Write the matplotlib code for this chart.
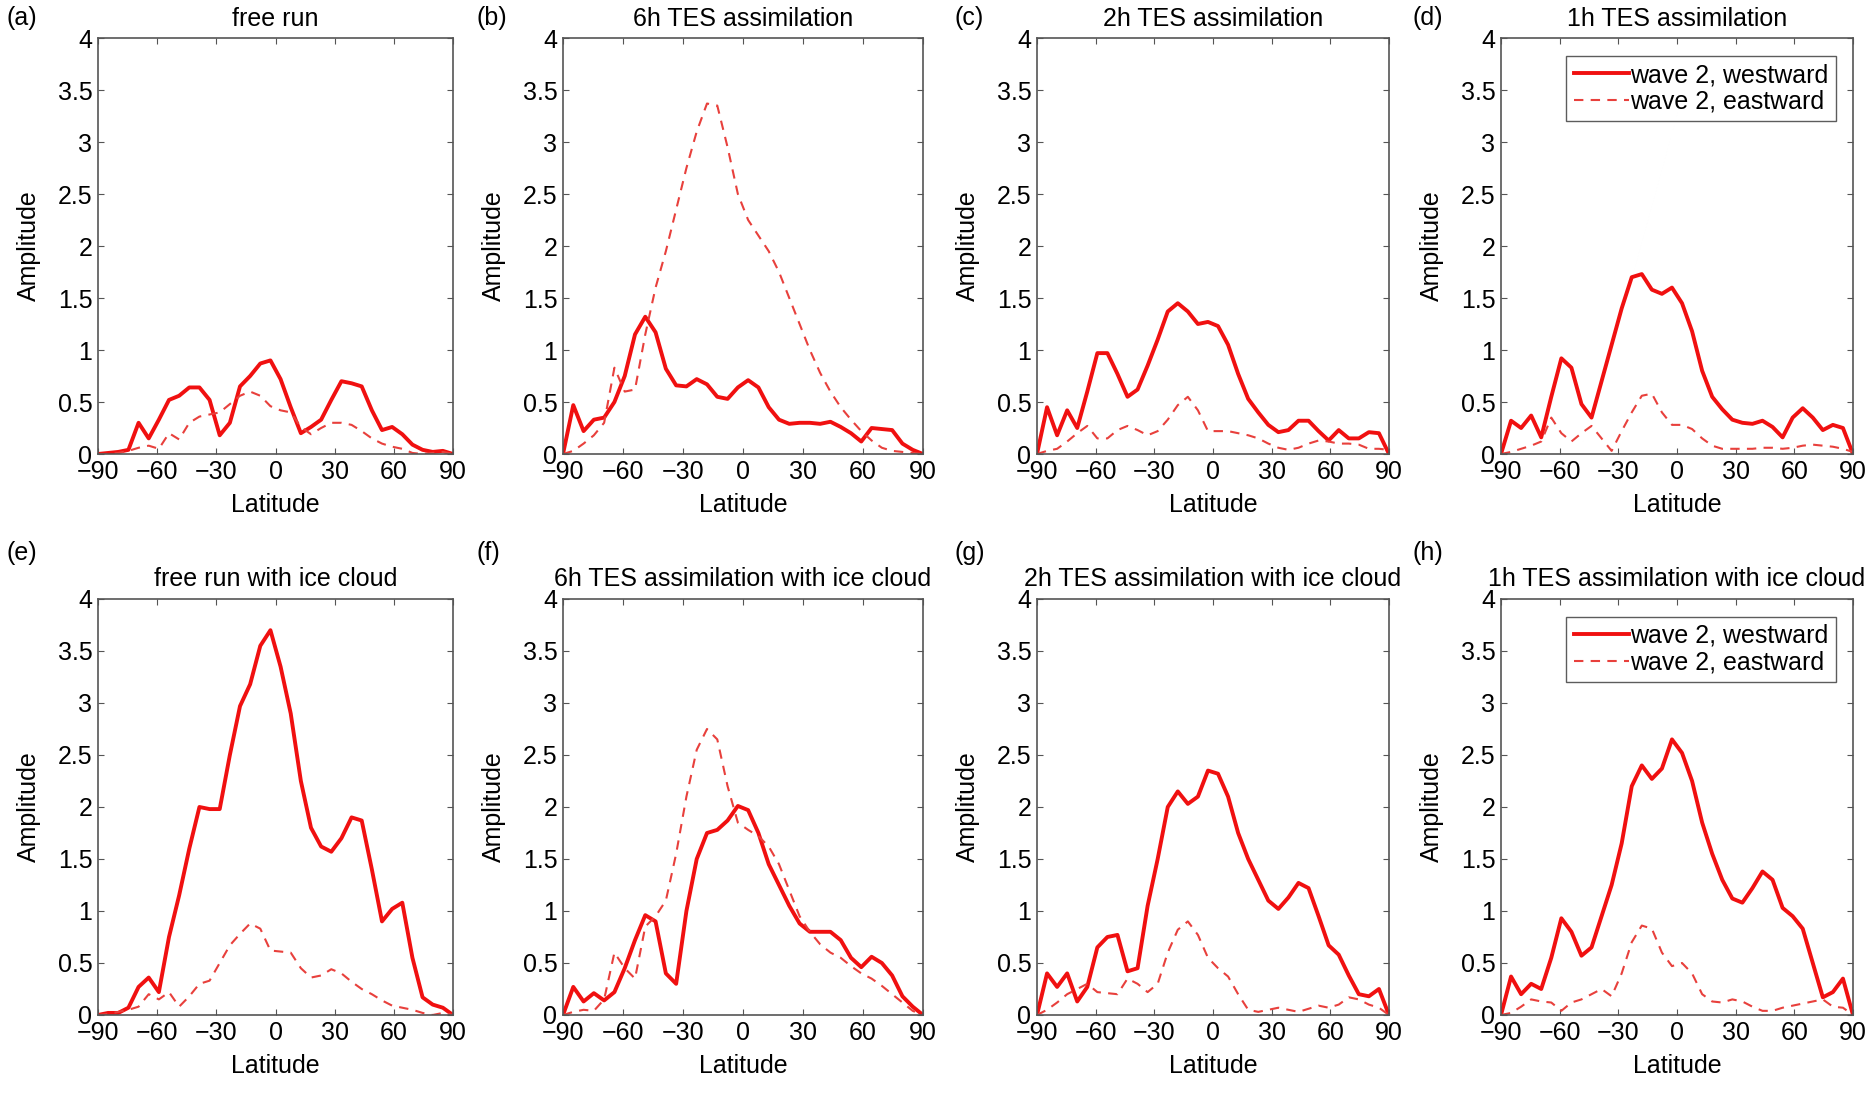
import matplotlib
matplotlib.use('Agg')
import matplotlib.pyplot as plt
from matplotlib.ticker import FuncFormatter

plt.rcParams['font.family'] = ['Liberation Sans', 'DejaVu Sans']

W, H = 1873, 1097
RED = '#f01010'
RED_DASH = '#e8403c'
SPINE = '#555555'

# 36 latitude points, -90..90
LAT = [-90.0, -84.86, -79.71, -74.57, -69.43, -64.29, -59.14, -54.0, -48.86,
       -43.71, -38.57, -33.43, -28.29, -23.14, -18.0, -12.86, -7.71, -2.57,
       2.57, 7.71, 12.86, 18.0, 23.14, 28.29, 33.43, 38.57, 43.71, 48.86,
       54.0, 59.14, 64.29, 69.43, 74.57, 79.71, 84.86, 90.0]

TITLES = ['free run', '6h TES assimilation', '2h TES assimilation', '1h TES assimilation',
          'free run with ice cloud', '6h TES assimilation with ice cloud',
          '2h TES assimilation with ice cloud', '1h TES assimilation with ice cloud']
LETTERS = ['(a)', '(b)', '(c)', '(d)', '(e)', '(f)', '(g)', '(h)']

# westward (solid) and eastward (dashed) wave 2 amplitudes
west_a = [0.0, 0.01, 0.02, 0.04, 0.30, 0.15, 0.33, 0.52, 0.56, 0.64, 0.64, 0.52,
          0.18, 0.30, 0.65, 0.75, 0.87, 0.90, 0.72, 0.45, 0.20, 0.26, 0.33, 0.52,
          0.70, 0.68, 0.65, 0.42, 0.23, 0.26, 0.19, 0.09, 0.04, 0.02, 0.03, 0.0]
east_a = [0.0, 0.0, 0.01, 0.03, 0.06, 0.08, 0.05, 0.20, 0.14, 0.30, 0.36, 0.38,
          0.40, 0.48, 0.56, 0.60, 0.56, 0.46, 0.42, 0.40, 0.26, 0.19, 0.25, 0.30,
          0.30, 0.28, 0.22, 0.15, 0.10, 0.07, 0.05, 0.01, 0.0, 0.01, 0.02, 0.0]

west_b = [0.0, 0.47, 0.22, 0.33, 0.35, 0.50, 0.75, 1.15, 1.32, 1.17, 0.82, 0.66,
          0.65, 0.72, 0.67, 0.55, 0.53, 0.64, 0.71, 0.64, 0.45, 0.33, 0.29, 0.30,
          0.30, 0.29, 0.31, 0.26, 0.20, 0.12, 0.25, 0.24, 0.23, 0.10, 0.04, 0.0]
east_b = [0.0, 0.03, 0.10, 0.18, 0.30, 0.83, 0.60, 0.62, 1.15, 1.60, 1.95, 2.35,
          2.75, 3.10, 3.37, 3.35, 2.95, 2.50, 2.25, 2.10, 1.95, 1.75, 1.50, 1.25,
          1.00, 0.78, 0.60, 0.45, 0.33, 0.22, 0.13, 0.06, 0.03, 0.02, 0.01, 0.0]

west_c = [0.0, 0.45, 0.18, 0.42, 0.25, 0.60, 0.97, 0.97, 0.77, 0.55, 0.62, 0.85,
          1.10, 1.37, 1.45, 1.37, 1.25, 1.27, 1.23, 1.05, 0.77, 0.53, 0.40, 0.28,
          0.21, 0.23, 0.32, 0.32, 0.22, 0.13, 0.23, 0.15, 0.15, 0.21, 0.20, 0.0]
east_c = [0.0, 0.03, 0.05, 0.12, 0.20, 0.27, 0.15, 0.15, 0.23, 0.27, 0.23, 0.18,
          0.22, 0.33, 0.47, 0.55, 0.42, 0.22, 0.22, 0.22, 0.20, 0.18, 0.15, 0.10,
          0.06, 0.04, 0.06, 0.10, 0.13, 0.12, 0.10, 0.10, 0.09, 0.05, 0.05, 0.04]

west_d = [0.0, 0.32, 0.25, 0.37, 0.16, 0.55, 0.92, 0.83, 0.48, 0.35, 0.70, 1.05,
          1.40, 1.70, 1.73, 1.58, 1.54, 1.60, 1.45, 1.18, 0.80, 0.55, 0.43, 0.33,
          0.30, 0.29, 0.32, 0.26, 0.16, 0.35, 0.44, 0.35, 0.23, 0.28, 0.25, 0.0]
east_d = [0.0, 0.02, 0.05, 0.08, 0.12, 0.35, 0.20, 0.12, 0.20, 0.27, 0.15, 0.03,
          0.22, 0.40, 0.56, 0.58, 0.40, 0.28, 0.28, 0.24, 0.15, 0.08, 0.05, 0.05,
          0.05, 0.05, 0.06, 0.06, 0.05, 0.06, 0.08, 0.09, 0.08, 0.07, 0.05, 0.02]

west_e = [0.0, 0.02, 0.02, 0.07, 0.27, 0.36, 0.22, 0.75, 1.15, 1.60, 2.00, 1.98,
          1.98, 2.50, 2.97, 3.18, 3.55, 3.70, 3.35, 2.90, 2.25, 1.80, 1.62, 1.57,
          1.70, 1.90, 1.87, 1.40, 0.90, 1.02, 1.08, 0.55, 0.17, 0.10, 0.07, 0.0]
east_e = [0.0, 0.01, 0.03, 0.05, 0.08, 0.20, 0.15, 0.22, 0.08, 0.18, 0.30, 0.33,
          0.50, 0.67, 0.78, 0.88, 0.83, 0.62, 0.61, 0.60, 0.45, 0.36, 0.38, 0.44,
          0.40, 0.32, 0.25, 0.20, 0.14, 0.09, 0.07, 0.05, 0.02, 0.0, 0.02, 0.0]

west_f = [0.0, 0.27, 0.13, 0.21, 0.14, 0.22, 0.45, 0.72, 0.96, 0.90, 0.40, 0.30,
          1.00, 1.50, 1.75, 1.78, 1.87, 2.01, 1.97, 1.75, 1.45, 1.25, 1.05, 0.88,
          0.80, 0.80, 0.80, 0.72, 0.55, 0.46, 0.56, 0.50, 0.38, 0.18, 0.08, 0.0]
east_f = [0.0, 0.03, 0.05, 0.04, 0.15, 0.60, 0.45, 0.35, 0.85, 0.95, 1.10, 1.55,
          2.10, 2.55, 2.75, 2.65, 2.20, 1.85, 1.78, 1.72, 1.62, 1.45, 1.20, 0.95,
          0.80, 0.68, 0.60, 0.55, 0.47, 0.40, 0.35, 0.28, 0.20, 0.12, 0.04, 0.0]

west_g = [0.0, 0.40, 0.27, 0.40, 0.13, 0.27, 0.65, 0.75, 0.77, 0.42, 0.45, 1.05,
          1.50, 2.00, 2.15, 2.03, 2.10, 2.35, 2.32, 2.10, 1.75, 1.50, 1.30, 1.10,
          1.02, 1.13, 1.27, 1.22, 0.95, 0.67, 0.58, 0.38, 0.20, 0.18, 0.25, 0.0]
east_g = [0.0, 0.05, 0.12, 0.20, 0.25, 0.30, 0.22, 0.21, 0.20, 0.35, 0.30, 0.22,
          0.30, 0.60, 0.82, 0.90, 0.77, 0.55, 0.45, 0.37, 0.20, 0.05, 0.03, 0.05,
          0.07, 0.05, 0.03, 0.06, 0.09, 0.07, 0.10, 0.17, 0.15, 0.10, 0.07, 0.0]

west_h = [0.0, 0.37, 0.20, 0.30, 0.25, 0.55, 0.93, 0.80, 0.57, 0.65, 0.95, 1.25,
          1.65, 2.20, 2.40, 2.27, 2.37, 2.65, 2.52, 2.25, 1.85, 1.55, 1.30, 1.12,
          1.08, 1.22, 1.38, 1.30, 1.03, 0.95, 0.83, 0.50, 0.17, 0.22, 0.35, 0.0]
east_h = [0.0, 0.02, 0.08, 0.15, 0.13, 0.12, 0.04, 0.12, 0.15, 0.20, 0.25, 0.18,
          0.40, 0.70, 0.86, 0.83, 0.60, 0.47, 0.50, 0.40, 0.20, 0.13, 0.12, 0.15,
          0.13, 0.08, 0.04, 0.04, 0.07, 0.09, 0.11, 0.13, 0.15, 0.08, 0.07, 0.0]

WEST = [west_a, west_b, west_c, west_d, west_e, west_f, west_g, west_h]
EAST = [east_a, east_b, east_c, east_d, east_e, east_f, east_g, east_h]

# axes boxes in pixels: left, width ; row top, height
COL_L = [98, 563, 1037, 1501]
COL_W = [355, 360, 352, 352]
ROW_T = [38, 599]
ROW_H = 416
LETTER_X = [6, 476, 955, 1413]
LETTER_Y = [18, 553]

FS = 18

fig = plt.figure(figsize=(W / 100, H / 100), dpi=100)
fig.patch.set_facecolor('white')


def yfmt(v, pos):
    return '%g' % v


for i in range(8):
    r, c = divmod(i, 4)
    rect = [COL_L[c] / W, 1 - (ROW_T[r] + ROW_H) / H, COL_W[c] / W, ROW_H / H]
    ax = fig.add_axes(rect)
    ax.plot(LAT, WEST[i], color=RED, lw=2.8, label='wave 2, westward')
    ax.plot(LAT, EAST[i], color=RED_DASH, lw=1.5, dashes=(4.5, 3.5), label='wave 2, eastward')
    ax.set_xlim(-90, 90)
    ax.set_ylim(0, 4)
    ax.set_xticks([-90, -60, -30, 0, 30, 60, 90])
    ax.set_yticks([0, 0.5, 1, 1.5, 2, 2.5, 3, 3.5, 4])
    ax.yaxis.set_major_formatter(FuncFormatter(yfmt))
    ax.tick_params(direction='in', length=4, width=0.8, color=SPINE,
                   top=True, right=True, labelsize=FS, pad=4)
    for s in ax.spines.values():
        s.set_color(SPINE)
        s.set_linewidth(1.2)
    ax.set_xlabel('Latitude', fontsize=FS, labelpad=7)
    ax.set_ylabel('Amplitude', fontsize=FS, labelpad=12)
    ax.set_title(TITLES[i], fontsize=FS, pad=9)
    fig.text(LETTER_X[c] / W, 1 - LETTER_Y[r] / H, LETTERS[i], fontsize=FS,
             ha='left', va='center')
    if c == 3:
        leg = ax.legend(loc='upper right', fontsize=FS, frameon=True, fancybox=False,
                        edgecolor='#333333', handlelength=2.2, handletextpad=0.05,
                        labelspacing=0.1, borderpad=0.3, borderaxespad=0.7)
        leg.get_frame().set_linewidth(1.0)

fig.savefig('out.png', dpi=100, facecolor='white')
